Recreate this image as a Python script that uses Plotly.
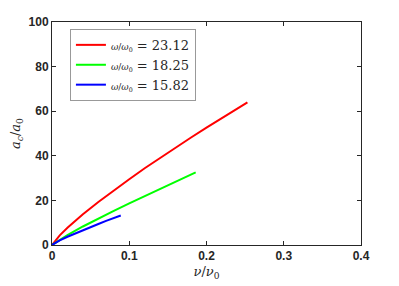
import plotly.graph_objects as go

# Data
red_nu = [0, 0.01, 0.02, 0.04, 0.06, 0.08, 0.10, 0.12, 0.14, 0.16, 0.18, 0.20, 0.22, 0.24, 0.253]
red_a = [0, 4.35, 7.7, 13.8, 19.3, 24.5, 29.5, 34.4, 39.1, 43.7, 48.2, 52.6, 56.9, 61.2, 64.0]

green_nu = [0, 0.01, 0.02, 0.04, 0.06, 0.08, 0.10, 0.12, 0.14, 0.16, 0.18, 0.186]
green_a = [0, 2.4, 4.45, 8.3, 11.9, 15.3, 18.7, 22.0, 25.3, 28.5, 31.6, 32.6]

blue_nu = [0, 0.01, 0.02, 0.03, 0.04, 0.05, 0.06, 0.07, 0.08, 0.089]
blue_a = [0, 2.06, 3.7, 5.2, 6.7, 8.1, 9.4, 10.8, 12.1, 13.2]

labels = ["23.12", "18.25", "15.82"]
colors = ["#ff0000", "#00ff00", "#0000ff"]

x_ticks = [0, 0.1, 0.2, 0.3, 0.4]
x_ticklabels = ["0", "0.1", "0.2", "0.3", "0.4"]
y_ticks = [0, 20, 40, 60, 80, 100]
y_ticklabels = ["0", "20", "40", "60", "80", "100"]

series = [(red_nu, red_a), (green_nu, green_a), (blue_nu, blue_a)]

fig = go.Figure()
for (x, y), lab, col in zip(series, labels, colors):
    fig.add_trace(go.Scatter(
        x=x, y=y, mode="lines", line=dict(color=col, width=2),
        name="<span style='font-size:9px'><i>ω</i>/<i>ω</i><sub>0</sub></span> = " + lab,
    ))

axis_common = dict(
    showline=True, linecolor="#262626", linewidth=1, mirror="ticks",
    ticks="inside", ticklen=4, tickcolor="#262626",
    showgrid=False, zeroline=False, automargin=False,
    tickfont=dict(family="Liberation Sans", size=12, color="#262626"),
)

fig.update_xaxes(
    range=[0, 0.4], tickvals=x_ticks,
    ticktext=["<b>" + t + "</b>" for t in x_ticklabels],
    title=dict(text="<i>ν</i>/<i>ν</i><sub>0</sub>",
               font=dict(family="DejaVu Serif", size=13, color="#262626"), standoff=4),
    **axis_common,
)
fig.update_yaxes(
    range=[0, 100], tickvals=y_ticks,
    ticktext=["<b>" + t + "</b>" for t in y_ticklabels],
    title=dict(text="<i>a</i><sub><i>c</i></sub>/<i>a</i><sub>0</sub>",
               font=dict(family="DejaVu Serif", size=13, color="#262626"), standoff=9),
    **axis_common,
)

# page body has an 8px default margin; compensate so plot area lands at the reference position
fig.update_layout(
    width=391, height=278,
    margin=dict(l=44, r=38, t=14, b=41),
    paper_bgcolor="white", plot_bgcolor="white",
    showlegend=True,
    legend=dict(
        x=0.058, y=0.969, xanchor="left", yanchor="top",
        bgcolor="white", bordercolor="#999999", borderwidth=1,
        font=dict(family="DejaVu Serif", size=13, color="#262626"),
        itemwidth=30, tracegroupgap=0,
    ),
)

fig.write_html("out.html")
